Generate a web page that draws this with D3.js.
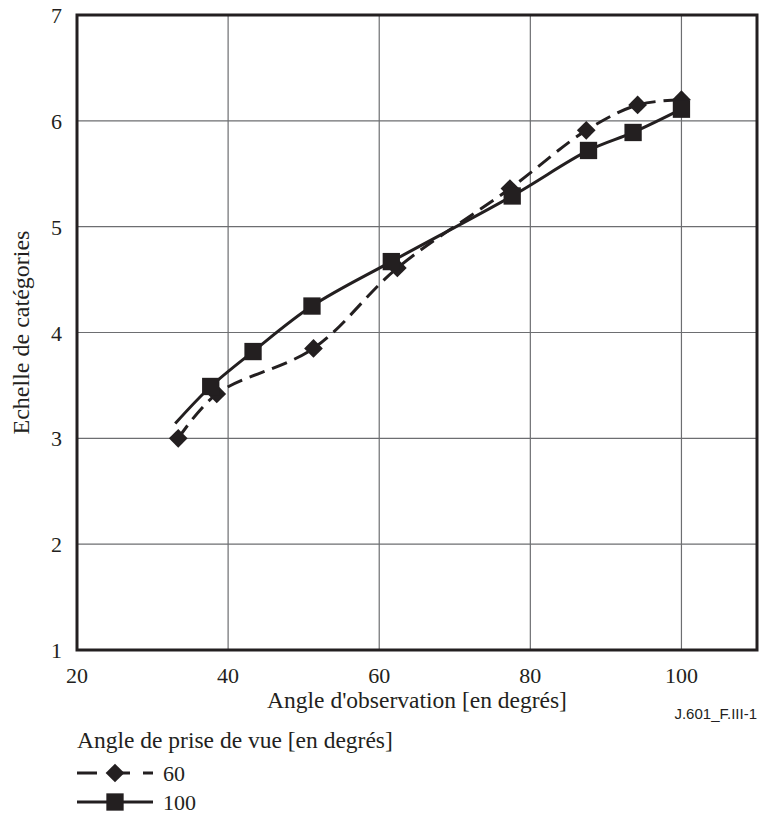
<!DOCTYPE html>
<html>
<head>
<meta charset="utf-8">
<script src="https://cdn.jsdelivr.net/npm/d3@7"></script>
<style>
  body { margin: 0; background: #fff; }
  svg text { font-family: "Liberation Serif", Tinos, "DejaVu Serif", "Times New Roman", Times, serif; }
  svg text.code { font-family: "Liberation Sans", Arimo, Arial, sans-serif; }
</style>
</head>
<body>
<svg width="762" height="814"></svg>
<script>
// angle d'observation (x) / echelle (y)
var angle60 = [33.4, 38.5, 51.3, 62.4, 77.3, 87.4, 94.2, 100];
var echelle60 = [3.0, 3.42, 3.85, 4.61, 5.36, 5.91, 6.15, 6.2];

// first point of the 100 series carries no marker
var angle100 = [33.0, 37.7, 43.3, 51.1, 61.6, 77.6, 87.7, 93.6, 100];
var echelle100 = [3.14, 3.49, 3.82, 4.25, 4.67, 5.29, 5.72, 5.89, 6.11];

var xTicks = [20, 40, 60, 80, 100];
var yTicks = [1, 2, 3, 4, 5, 6, 7];

var svg = d3.select("svg"),
    pl = 77, pr = 757, pt = 15, pb = 650,
    ink = "#231f20";

svg.attr("fill", ink);

var x = d3.scaleLinear().domain([20, 110]).range([pl, pr]);
var y = d3.scaleLinear().domain([1, 7]).range([pb, pt]);

// grid
svg.append("g").selectAll("line")
  .data(xTicks.slice(1))
  .enter().append("line")
    .attr("x1", function(d) { return x(d); })
    .attr("x2", function(d) { return x(d); })
    .attr("y1", pt).attr("y2", pb)
    .attr("stroke", "#6d6e71").attr("stroke-width", 1.2);

svg.append("g").selectAll("line")
  .data(yTicks.slice(1, -1))
  .enter().append("line")
    .attr("y1", function(d) { return y(d); })
    .attr("y2", function(d) { return y(d); })
    .attr("x1", pl).attr("x2", pr)
    .attr("stroke", "#6d6e71").attr("stroke-width", 1.2);

svg.append("rect")
    .attr("x", pl).attr("y", pt)
    .attr("width", pr - pl).attr("height", pb - pt)
    .attr("fill", "none").attr("stroke", ink).attr("stroke-width", 3);

// tick labels
svg.append("g").selectAll("text")
  .data(xTicks)
  .enter().append("text")
    .attr("x", function(d) { return x(d); })
    .attr("y", 683)
    .attr("text-anchor", "middle")
    .attr("font-size", 22)
    .text(function(d) { return d; });

svg.append("g").selectAll("text")
  .data(yTicks)
  .enter().append("text")
    .attr("x", 62)
    .attr("y", function(d) { return y(d) + 8; })
    .attr("text-anchor", "end")
    .attr("font-size", 22)
    .text(function(d) { return d; });

svg.append("text")
    .attr("x", (pl + pr) / 2).attr("y", 708)
    .attr("text-anchor", "middle").attr("font-size", 23.5)
    .text("Angle d'observation [en degrés]");

svg.append("text")
    .attr("transform", "translate(29," + (pt + pb) / 2 + ") rotate(-90)")
    .attr("text-anchor", "middle").attr("font-size", 24)
    .text("Echelle de catégories");

svg.append("text")
    .attr("class", "code")
    .attr("x", pr).attr("y", 719)
    .attr("text-anchor", "end").attr("font-size", 15)
    .text("J.601_F.III-1");

// series
var line = d3.line()
    .x(function(d) { return x(d[0]); })
    .y(function(d) { return y(d[1]); })
    .curve(d3.curveCatmullRom.alpha(0.5));

var pts60 = d3.zip(angle60, echelle60),
    pts100 = d3.zip(angle100, echelle100);

svg.append("path")
    .attr("d", line(pts60))
    .attr("fill", "none").attr("stroke", ink)
    .attr("stroke-width", 3).attr("stroke-dasharray", "16,8");

svg.append("path")
    .attr("d", line(pts100))
    .attr("fill", "none").attr("stroke", ink)
    .attr("stroke-width", 3);

var diamond = d3.symbol().type(d3.symbolSquare).size(175)();
var square = d3.symbol().type(d3.symbolSquare).size(300)();

svg.append("g").selectAll("path")
  .data(pts60)
  .enter().append("path")
    .attr("d", diamond)
    .attr("transform", function(d) { return "translate(" + x(d[0]) + "," + y(d[1]) + ") rotate(45)"; })
    .attr("fill", ink);

svg.append("g").selectAll("path")
  .data(pts100.slice(1))
  .enter().append("path")
    .attr("d", square)
    .attr("transform", function(d) { return "translate(" + x(d[0]) + "," + y(d[1]) + ")"; })
    .attr("fill", ink);

// legend
svg.append("text")
    .attr("x", pl).attr("y", 748)
    .attr("font-size", 23.5)
    .text("Angle de prise de vue [en degrés]");

var legend = [
  { label: "60", dash: "20,13", sym: diamond, rot: 45, cy: 773 },
  { label: "100", dash: null, sym: square, rot: 0, cy: 802 }
];

var lg = svg.append("g").selectAll("g")
  .data(legend)
  .enter().append("g");

lg.append("line")
    .attr("x1", pl).attr("x2", 153)
    .attr("y1", function(d) { return d.cy; })
    .attr("y2", function(d) { return d.cy; })
    .attr("stroke", ink).attr("stroke-width", 3)
    .attr("stroke-dasharray", function(d) { return d.dash; });

lg.append("path")
    .attr("d", function(d) { return d.sym; })
    .attr("transform", function(d) { return "translate(115," + d.cy + ") rotate(" + d.rot + ")"; })
    .attr("fill", ink);

lg.append("text")
    .attr("x", 163)
    .attr("y", function(d) { return d.cy + 8; })
    .attr("font-size", 22)
    .text(function(d) { return d.label; });
</script>
</body>
</html>
